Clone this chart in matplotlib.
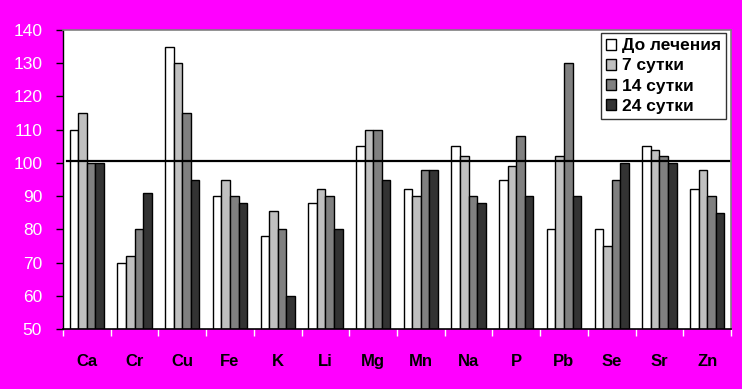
import matplotlib
matplotlib.use("Agg")
import matplotlib.pyplot as plt
import numpy as np

categories = ["Ca", "Cr", "Cu", "Fe", "K", "Li", "Mg", "Mn", "Na", "P", "Pb", "Se", "Sr", "Zn"]
series_names = ["До лечения", "7 сутки", "14 сутки", "24 сутки"]
before = [110, 70, 135, 90, 78, 88, 105, 92, 105, 95, 80, 80, 105, 92]
day7 = [115, 72, 130, 95, 85.5, 92, 110, 90, 102, 99, 102, 75, 104, 98]
day14 = [100, 80, 115, 90, 80, 90, 110, 98, 90, 108, 130, 95, 102, 90]
day24 = [100, 91, 95, 88, 60, 80, 95, 98, 88, 90, 90, 100, 100, 85]
norm_level = 100.6
y_ticks = [50, 60, 70, 80, 90, 100, 110, 120, 130, 140]

plt.rcParams['font.family'] = ['Liberation Sans', 'DejaVu Sans']

fig = plt.figure(figsize=(7.42, 3.89), dpi=100)
fig.patch.set_facecolor('#FF00FF')
ax = fig.add_axes([63/742, 1-329/389, (731-63)/742, (329-30)/389])
ax.set_facecolor('white')

colors = ['#FFFFFF', '#C0C0C0', '#808080', '#333333']
data = [before, day7, day14, day24]
x = np.arange(len(categories))
w = 0.18
for i, (vals, c, name) in enumerate(zip(data, colors, series_names)):
    ax.bar(x + (i - 1.5) * w, np.array(vals) - 50, bottom=50, width=w, color=c,
           edgecolor='black', linewidth=1.0, label=name, zorder=2)

ax.plot([-0.42, len(categories) - 0.55], [norm_level, norm_level], color='black', lw=1.6, zorder=3)

ax.set_xlim(-0.5, len(categories) - 0.5)
ax.set_ylim(50, 140)
ax.set_yticks(y_ticks)
ax.set_yticklabels([str(t) for t in y_ticks], color='white', fontsize=12.5)
ax.tick_params(axis='y', direction='out', length=5, width=1, color='black', pad=10)

ax.set_xticks(x)
ax.set_xticklabels(categories, fontsize=12, fontweight='bold', color='black')
ax.tick_params(axis='x', which='major', length=0, pad=18)
ax.set_xticks(np.arange(len(categories) + 1) - 0.5, minor=True)
ax.tick_params(axis='x', which='minor', direction='out', length=5, width=1, color='white')

for s in ['top', 'right']:
    ax.spines[s].set_color('#808080')
    ax.spines[s].set_linewidth(1.2)
ax.spines['bottom'].set_color('black')
ax.spines['bottom'].set_linewidth(1.2)
ax.spines['left'].set_color('black')
ax.spines['left'].set_linewidth(1)

leg = ax.legend(loc='upper right', bbox_to_anchor=(1 - 5/668, 1 - 3/299), frameon=True, fancybox=False,
                edgecolor='black', prop={'weight': 'bold', 'size': 12.5},
                handlelength=0.6, handleheight=0.6, handletextpad=0.3, borderpad=0.3,
                labelspacing=0.3, borderaxespad=0)
leg.get_frame().set_linewidth(1)

fig.savefig('out.png', dpi=100, facecolor=fig.get_facecolor())
